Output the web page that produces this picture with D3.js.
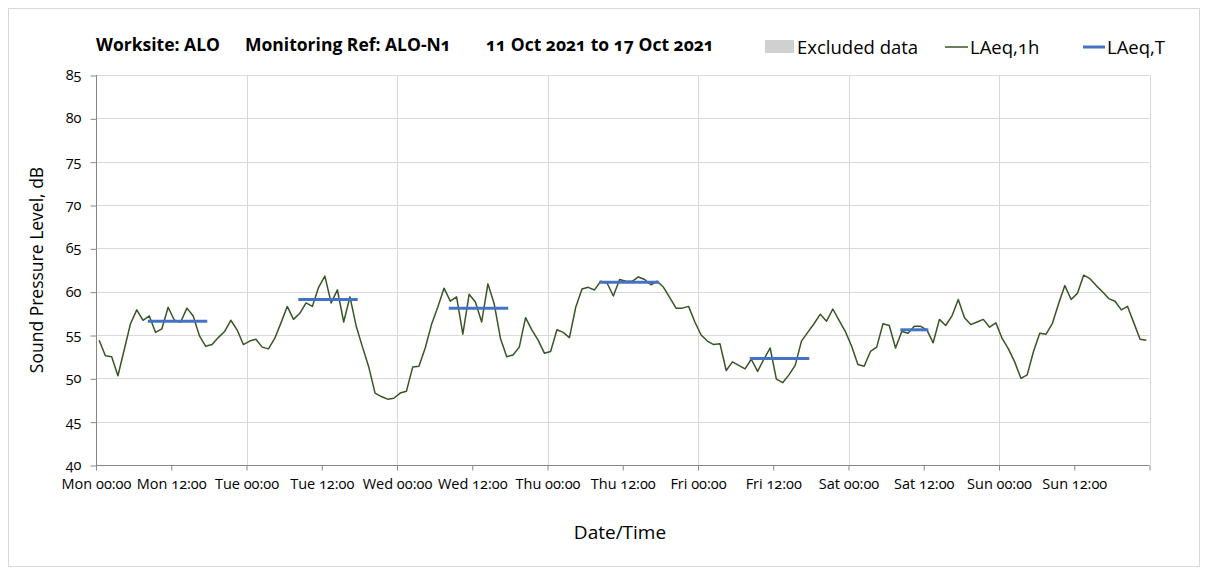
<!DOCTYPE html>
<meta charset="utf-8">
<style>
body { margin: 0; background: #fff; }
svg text { font-family: "Open Sans", "Noto Sans", sans-serif; font-variant-numeric: oldstyle-nums; fill: #000; }
.grid line { stroke: #d9d9d9; stroke-width: 1; }
.axis path, .axis line { stroke: #868686; }
.axis text { font-size: 14.5px; }
</style>
<body>
<svg width="1208" height="575"></svg>
<script src="https://d3js.org/d3.v7.min.js"></script>
<script>

// x tick labels, every 12 hours
var tickLabels = ["Mon 00:00","Mon 12:00","Tue 00:00","Tue 12:00","Wed 00:00","Wed 12:00","Thu 00:00",
                  "Thu 12:00","Fri 00:00","Fri 12:00","Sat 00:00","Sat 12:00","Sun 00:00","Sun 12:00"];

// hourly LAeq,1h, Mon 00:00 .. Sun 23:00
var laeq1h = [
  54.4, 52.6, 52.5, 50.3, 53.3, 56.3, 57.9, 56.7, 57.2, 55.3, 55.7, 58.2, 56.7, 56.5, 58.1, 57.2, 54.9, 53.7, 53.9, 54.7, 55.4, 56.7, 55.6, 53.9,
  54.3, 54.5, 53.6, 53.4, 54.6, 56.4, 58.3, 56.8, 57.5, 58.7, 58.3, 60.5, 61.8, 58.7, 60.2, 56.5, 59.4, 56.0, 53.6, 51.3, 48.3, 47.9, 47.6, 47.7,
  48.3, 48.5, 51.3, 51.4, 53.5, 56.2, 58.2, 60.4, 58.9, 59.4, 55.1, 59.7, 58.8, 56.5, 60.9, 58.6, 54.6, 52.5, 52.7, 53.6, 57.0, 55.6, 54.4, 52.9,
  53.1, 55.6, 55.3, 54.7, 58.2, 60.3, 60.5, 60.2, 61.2, 61.0, 59.5, 61.4, 61.2, 61.2, 61.7, 61.4, 60.8, 61.2, 60.5, 59.3, 58.1, 58.1, 58.3, 56.5,
  55.0, 54.3, 53.9, 54.0, 50.9, 51.9, 51.5, 51.1, 52.2, 50.8, 52.2, 53.5, 49.9, 49.5, 50.4, 51.5, 54.3, 55.3, 56.3, 57.4, 56.6, 58.0, 56.7, 55.4,
  53.7, 51.6, 51.4, 53.1, 53.6, 56.3, 56.1, 53.5, 55.4, 55.2, 56.0, 56.0, 55.6, 54.1, 56.8, 56.1, 57.2, 59.1, 57.0, 56.2, 56.5, 56.8, 55.9, 56.4,
  54.6, 53.4, 51.9, 50.0, 50.4, 53.1, 55.2, 55.1, 56.3, 58.6, 60.7, 59.1, 59.8, 61.9, 61.5, 60.7, 60.0, 59.2, 58.9, 57.9, 58.3, 56.4, 54.5, 54.4
];

// LAeq,T periods (day index, start hour, end hour, level)
var periodDay   = [0, 1, 2, 3, 4, 5];
var periodStart = [8, 8, 8, 8, 8, 8];
var periodEnd   = [18, 18, 18, 18, 18, 13];
var periodValue = [56.6, 59.1, 58.1, 61.1, 52.3, 55.6];

var yTicks = [40, 45, 50, 55, 60, 65, 70, 75, 80, 85];

var svg = d3.select("svg");
var pLeft = 96, pRight = 1149.5, pTop = 75, pBottom = 465;

var x = d3.scaleLinear().domain([0, 168]).range([pLeft, pRight]);
var y = d3.scaleLinear().domain([40, 85]).range([pBottom, pTop]);

// chart border
svg.append("rect")
    .attr("x", 8.5).attr("y", 8.5)
    .attr("width", 1191).attr("height", 558)
    .attr("fill", "none").attr("stroke", "#d9d9d9");

// gridlines
var grid = svg.append("g").attr("class", "grid");
grid.selectAll(".h").data(yTicks.slice(1)).enter().append("line")
    .attr("x1", pLeft).attr("x2", pRight)
    .attr("y1", function(d) { return Math.round(y(d)) + 0.5; })
    .attr("y2", function(d) { return Math.round(y(d)) + 0.5; });
grid.selectAll(".v").data(d3.range(24, 169, 24)).enter().append("line")
    .attr("y1", pTop).attr("y2", pBottom)
    .attr("x1", function(d) { return Math.round(x(d)) + 0.5; })
    .attr("x2", function(d) { return Math.round(x(d)) + 0.5; });

// axes
svg.append("g")
    .attr("class", "axis")
    .attr("transform", "translate(" + (pLeft + 0.5) + ",0)")
    .call(d3.axisLeft(y).tickValues(yTicks).tickSize(6).tickPadding(9))
    .call(function(g) { g.select(".domain").attr("d", "M0," + pTop + "V" + pBottom); })
    .call(function(g) { g.selectAll(".tick line").attr("transform", "translate(0,0.5)"); });

svg.append("g")
    .attr("class", "axis")
    .attr("transform", "translate(0," + (pBottom + 0.5) + ")")
    .call(d3.axisBottom(x).tickValues(d3.range(0, 169, 12)).tickSize(5).tickPadding(8)
        .tickFormat(function(d) { return tickLabels[d / 12] || ""; }))
    .call(function(g) { g.select(".domain").attr("d", "M" + pLeft + ",0H" + pRight); });

// LAeq,1h line
var line = d3.line()
    .x(function(d, i) { return x(i + 0.5); })
    .y(function(d) { return y(d); });

svg.append("path")
    .datum(laeq1h)
    .attr("d", line)
    .attr("fill", "none")
    .attr("stroke", "#375623")
    .attr("stroke-width", 1.5)
    .attr("stroke-linejoin", "round");

// LAeq,T segments
svg.selectAll(".period").data(periodValue).enter().append("line")
    .attr("x1", function(d, i) { return x(periodDay[i] * 24 + periodStart[i] + 0.5); })
    .attr("x2", function(d, i) { return x(periodDay[i] * 24 + periodEnd[i] - 0.5); })
    .attr("y1", function(d) { return y(d); })
    .attr("y2", function(d) { return y(d); })
    .attr("stroke", "#4472c4")
    .attr("stroke-width", 3)
    .attr("stroke-linecap", "square");

// title
var title = svg.append("g").attr("font-weight", "bold").attr("font-size", "17.5px");
title.append("text").attr("x", 96).attr("y", 51).text("Worksite: ALO");
title.append("text").attr("x", 245).attr("y", 51).text("Monitoring Ref: ALO-N1");
title.append("text").attr("x", 486).attr("y", 51).text("11 Oct 2021 to 17 Oct 2021");

// legend
var legend = svg.append("g").attr("font-size", "18.5px");
legend.append("rect").attr("x", 765).attr("y", 40).attr("width", 29).attr("height", 13).attr("fill", "#d0d0d0");
legend.append("text").attr("x", 797).attr("y", 54).text("Excluded data");
legend.append("line").attr("x1", 945).attr("x2", 968).attr("y1", 47).attr("y2", 47)
    .attr("stroke", "#375623").attr("stroke-width", 1.5);
legend.append("text").attr("x", 970).attr("y", 54).text("LAeq,1h");
legend.append("line").attr("x1", 1083).attr("x2", 1105).attr("y1", 47).attr("y2", 47)
    .attr("stroke", "#4472c4").attr("stroke-width", 3);
legend.append("text").attr("x", 1107).attr("y", 54).text("LAeq,T");

// axis titles
svg.append("text")
    .attr("transform", "translate(43," + ((pTop + pBottom) / 2) + ") rotate(-90)")
    .attr("text-anchor", "middle")
    .attr("font-size", "17.5px")
    .text("Sound Pressure Level, dB");

svg.append("text")
    .attr("x", 620).attr("y", 539)
    .attr("text-anchor", "middle")
    .attr("font-size", "19px")
    .text("Date/Time");

</script>
</body>
